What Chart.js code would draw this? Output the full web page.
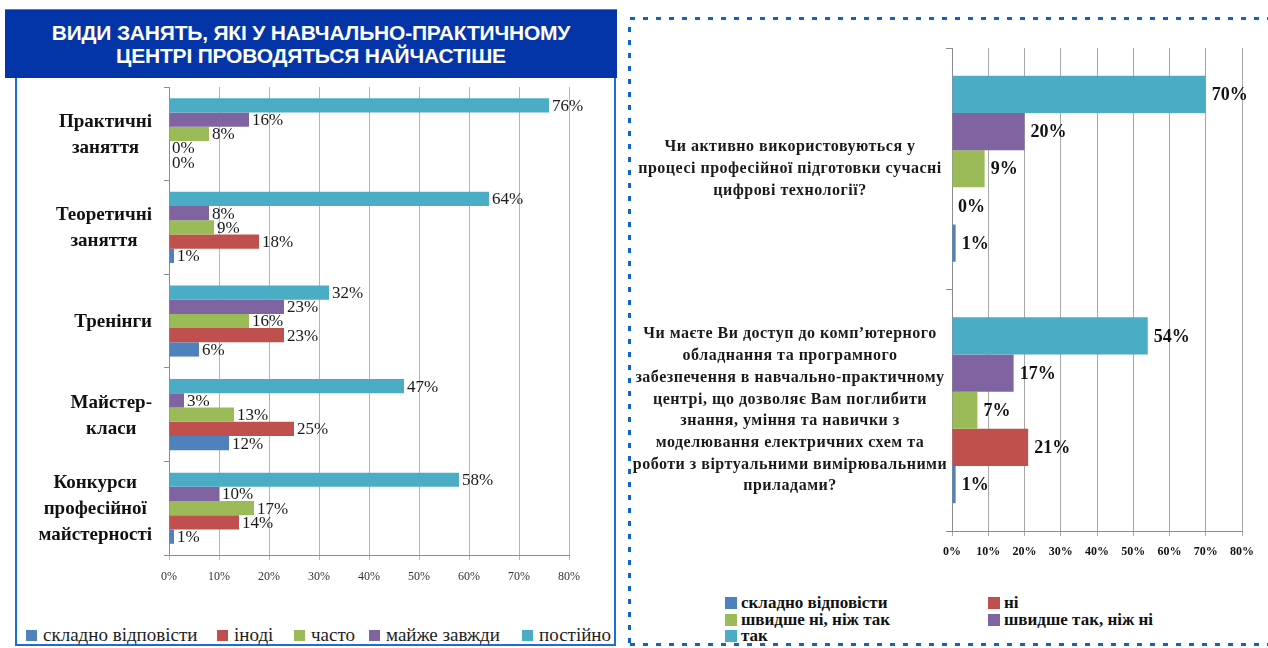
<!DOCTYPE html>
<html>
<head>
<meta charset="utf-8">
<script src="https://cdn.jsdelivr.net/npm/chart.js@4/dist/chart.umd.min.js"></script>
<style>
  html,body{margin:0;padding:0;background:#fff;}
  body{width:1268px;height:648px;position:relative;overflow:hidden;font-family:'Liberation Serif','Times New Roman',serif;}
  #banner{position:absolute;left:5px;top:9px;width:612px;height:69px;background:#0334a8;color:#fff;
    font:bold 21px 'Liberation Sans',Arial,sans-serif;text-align:center;display:flex;flex-direction:column;
    align-items:center;justify-content:center;line-height:23px;box-shadow:inset 0 1px 0 #5577c8;letter-spacing:-0.2px;}
  #leftFrame{position:absolute;left:15px;top:78px;width:597px;height:566px;border:2px solid #1a6ed8;border-top:none;}
  #leftWrap{position:absolute;left:17px;top:80px;width:595px;height:520px;}
  #rightBox{position:absolute;left:628px;top:17px;width:680px;height:629px;
    background:
      repeating-linear-gradient(90deg,#0a66cc 0 5px,transparent 5px 13px) 2px 0/100% 3px no-repeat,
      repeating-linear-gradient(90deg,#0a66cc 0 5px,transparent 5px 13px) 2px 626px/100% 3px no-repeat,
      repeating-linear-gradient(180deg,#0a66cc 0 5px,transparent 5px 13px) 0 10px/3px 100% no-repeat;}
  #rightWrap{position:absolute;left:630px;top:20px;width:636px;height:560px;}
  .lg{position:absolute;display:flex;align-items:center;white-space:nowrap;color:#1e1e1e;}
  .lg i{display:inline-block;width:11px;height:11px;margin-right:6px;}
  .lgL{font-size:19px;}
  .lgR{font-size:17px;font-weight:bold;color:#111;}
  .lgR i{width:12px;height:12px;margin-right:4px;}
</style>
</head>
<body>
<div id="banner"><div>ВИДИ ЗАНЯТЬ, ЯКІ У НАВЧАЛЬНО-ПРАКТИЧНОМУ</div><div>ЦЕНТРІ ПРОВОДЯТЬСЯ НАЙЧАСТІШЕ</div></div>
<div id="leftFrame"></div>
<div id="leftWrap"><canvas id="c1" width="595" height="520"></canvas></div>
<div id="rightBox"></div>
<div id="rightWrap"><canvas id="c2" width="636" height="560"></canvas></div>
<div id="legendL"></div>
<div id="legendR"></div>
<script>
// ---------- DATA: left chart ----------
const leftCategories = [['Практичні','заняття'],['Теоретичні','заняття'],['Тренінги'],['Майстер-','класи'],['Конкурси','професійної','майстерності']];
const leftSeriesNames = ['складно відповісти','іноді','часто','майже завжди','постійно'];
const leftHard      = [0, 1, 6, 12, 1];   // складно відповісти
const leftSometimes = [0, 18, 23, 25, 14]; // іноді
const leftOften     = [8, 9, 16, 13, 17];  // часто
const leftAlmost    = [16, 8, 23, 3, 10];  // майже завжди
const leftAlways    = [76, 64, 32, 47, 58]; // постійно
const leftTicks = [0,10,20,30,40,50,60,70,80];

// ---------- DATA: right chart ----------
const rightCategories = [
  ['Чи активно використовуються у','процесі професійної підготовки сучасні','цифрові технології?'],
  ['Чи маєте Ви доступ до комп’ютерного','обладнання та програмного','забезпечення в навчально-практичному','центрі, що дозволяє Вам поглибити','знання, уміння та навички з','моделювання електричних схем та','роботи з віртуальними вимірювальними','приладами?']
];
const rightSeriesNames = ['складно відповісти','ні','швидше ні, ніж так','швидше так, ніж ні','так'];
const rightHard    = [1, 1];
const rightNo      = [0, 21];
const rightRatherNo  = [9, 7];
const rightRatherYes = [20, 17];
const rightYes     = [70, 54];
const rightTicks = [0,10,20,30,40,50,60,70,80];

const COLORS = ['#4f81bd','#c0504d','#9bbb59','#8064a2','#4bacc6'];

// ---------- plugins ----------
const barLabels = {
  id:'barLabels',
  afterDatasetsDraw(chart, args, opts){
    const ctx = chart.ctx;
    ctx.save();
    ctx.font = opts.font;
    ctx.fillStyle = opts.color;
    ctx.textAlign = 'left';
    ctx.textBaseline = 'middle';
    chart.data.datasets.forEach((ds,i)=>{
      const meta = chart.getDatasetMeta(i);
      meta.data.forEach((el,j)=>{
        ctx.fillText(ds.data[j]+'%', el.x + opts.offset, el.y + (opts.dy||0));
      });
    });
    ctx.restore();
  }
};
const catLabels = {
  id:'catLabels',
  afterDraw(chart, args, opts){
    const ctx = chart.ctx, y = chart.scales.y;
    ctx.save();
    ctx.font = opts.font;
    if (opts.spacing) { try { ctx.letterSpacing = opts.spacing; } catch(e){} }
    ctx.fillStyle = opts.color;
    ctx.textBaseline = 'middle';
    ctx.textAlign = 'center';
    chart.data.labels.forEach((lines,i)=>{
      const cy = y.getPixelForValue(i);
      const n = lines.length;
      let cx;
      if (opts.mode === 'blockRight'){
        const maxW = Math.max(...lines.map(l=>ctx.measureText(l).width));
        cx = chart.chartArea.left - opts.gap - maxW/2;
      } else {
        cx = opts.centerX;
      }
      lines.forEach((l,k)=>{
        ctx.fillText(l, cx, cy + (k-(n-1)/2)*opts.lineHeight + (opts.dy||0));
      });
    });
    ctx.restore();
  }
};

function makeDatasets(names, arrays){
  // reversed so that the last series sits on top inside each category
  const ds = names.map((n,i)=>({label:n, data:arrays[i], backgroundColor:COLORS[i], borderWidth:0,
    barPercentage:1, categoryPercentage:0}));
  return ds.reverse();
}

// ---------- left chart ----------
const dsL = makeDatasets(leftSeriesNames,[leftHard,leftSometimes,leftOften,leftAlmost,leftAlways]);
dsL.forEach(d=>d.categoryPercentage=0.76);
new Chart(document.getElementById('c1'),{
  type:'bar',
  data:{labels:leftCategories, datasets:dsL},
  plugins:[barLabels,catLabels],
  options:{
    responsive:false, animation:false, indexAxis:'y',
    layout:{padding:{top:7,right:43,left:0,bottom:0}},
    plugins:{
      legend:{display:false}, tooltip:{enabled:false},
      barLabels:{font:"17px 'Liberation Serif'", color:'#1a1a1a', offset:3, dy:1},
      catLabels:{font:"bold 19px 'Liberation Serif'", color:'#111', mode:'blockRight', gap:17, lineHeight:26, dy:1}
    },
    scales:{
      x:{min:0,max:80,
        afterBuildTicks(s){ s.ticks = leftTicks.map(v=>({value:v})); },
        ticks:{callback:v=>v+'%', font:{family:'Liberation Serif',size:12}, color:'#333', padding:10},
        grid:{color:'#b5b5b5', tickLength:5}, border:{color:'#8c8c8c'},
        afterFit(s){ s.height = 45; }
      },
      y:{ticks:{display:false},
        grid:{drawOnChartArea:false, tickLength:5, color:'#8c8c8c', offset:true},
        border:{color:'#8c8c8c'},
        afterFit(s){ s.width = 152; }
      }
    }
  }
});

// ---------- right chart ----------
const dsR = makeDatasets(rightSeriesNames,[rightHard,rightNo,rightRatherNo,rightRatherYes,rightYes]);
dsR.forEach(d=>d.categoryPercentage=0.77);
new Chart(document.getElementById('c2'),{
  type:'bar',
  data:{labels:rightCategories, datasets:dsR},
  plugins:[barLabels,catLabels],
  options:{
    responsive:false, animation:false, indexAxis:'y',
    layout:{padding:{top:28,right:24,left:0,bottom:0}},
    plugins:{
      legend:{display:false}, tooltip:{enabled:false},
      barLabels:{font:"bold 18px 'Liberation Serif'", color:'#111', offset:6, dy:1},
      catLabels:{font:"bold 16px 'Liberation Serif'", spacing:'0.5px', color:'#1a1a1a', mode:'center', centerX:160, lineHeight:21.7, dy:0}
    },
    scales:{
      x:{min:0,max:80,
        afterBuildTicks(s){ s.ticks = rightTicks.map(v=>({value:v})); },
        ticks:{callback:v=>v+'%', font:{family:'Liberation Serif',size:12,weight:'bold'}, color:'#111', padding:9},
        grid:{color:'#a8a8a8', tickLength:5}, border:{color:'#8c8c8c'},
        afterFit(s){ s.height = 49; }
      },
      y:{ticks:{display:false},
        grid:{drawOnChartArea:false, tickLength:6, color:'#8c8c8c', offset:true},
        border:{color:'#8c8c8c'},
        afterFit(s){ s.width = 322; }
      }
    }
  }
});

// ---------- legends (HTML text) ----------
const lgL = document.getElementById('legendL');
const leftLegendX = [26,217,294,369,522];
leftSeriesNames.forEach((n,i)=>{
  const d = document.createElement('div');
  d.className='lg lgL';
  d.style.left = leftLegendX[i]+'px'; d.style.top = '624px';
  d.innerHTML = '<i style="background:'+COLORS[i]+'"></i>'+n;
  lgL.appendChild(d);
});
const lgR = document.getElementById('legendR');
const rightLegendPos = [[725,593],[988,593],[725,610],[988,610],[725,626]];
rightSeriesNames.forEach((n,i)=>{
  const d = document.createElement('div');
  d.className='lg lgR';
  d.style.left = rightLegendPos[i][0]+'px'; d.style.top = rightLegendPos[i][1]+'px';
  d.style.lineHeight='19px';
  d.innerHTML = '<i style="background:'+COLORS[i]+'"></i>'+n;
  lgR.appendChild(d);
});
</script>
</body>
</html>
